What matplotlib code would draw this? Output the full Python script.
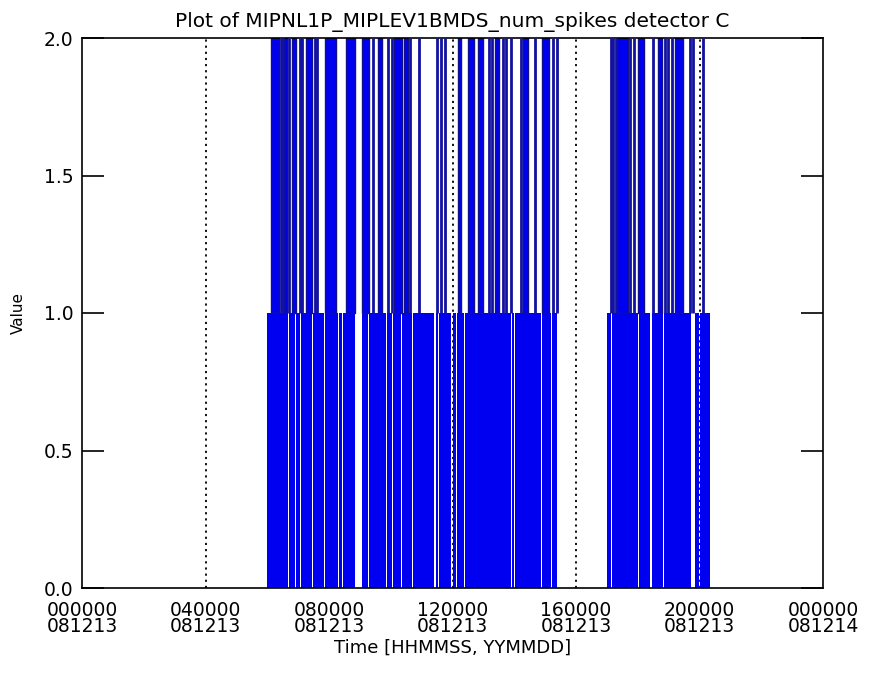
import matplotlib
matplotlib.use('Agg')
import matplotlib.pyplot as plt

FONT_SIZE = 13.5
matplotlib.rcParams.update({'font.size': FONT_SIZE, 'font.family': 'DejaVu Sans'})

# time axis in hours since 081213 000000
tick_hours = [0, 4, 8, 12, 16, 20, 24]
tick_labels = ['000000\n081213', '040000\n081213', '080000\n081213', '120000\n081213',
               '160000\n081213', '200000\n081213', '000000\n081214']
grid_hours = [4, 8, 12, 16, 20]

# stretches where num_spikes keeps toggling 0 <-> 1 (shows as solid blue up to 1.0)
low_spans = [(5.98, 6.66), (6.70, 6.90), (6.94, 7.06), (7.10, 7.44), (7.48, 7.83),
             (7.88, 8.28), (8.32, 8.41), (8.45, 8.84), (9.06, 9.25), (9.29, 9.85),
             (9.89, 10.04), (10.08, 10.33), (10.37, 10.68), (10.72, 11.41), (11.45, 11.52),
             (11.56, 11.95), (12.03, 12.11), (12.15, 12.38), (12.42, 13.89), (13.93, 14.00),
             (14.04, 14.87), (14.91, 15.19), (15.23, 15.38),
             (17.00, 17.13), (17.17, 18.00), (18.04, 18.41), (18.45, 18.81), (18.85, 19.74),
             (19.87, 19.97), (20.03, 20.34)]

# stretches toggling 1 <-> 2 (solid blue between 1.0 and 2.0)
high_spans = [(6.13, 6.38), (6.53, 6.64), (6.79, 6.93), (7.27, 7.45), (7.88, 8.23),
              (8.55, 8.83), (9.06, 9.28), (9.58, 9.71), (10.12, 10.36), (10.44, 10.56),
              (12.18, 12.28), (12.49, 12.71), (12.84, 12.98), (13.38, 13.51), (14.27, 14.46),
              (14.89, 15.13), (17.33, 17.68), (18.00, 18.19), (18.65, 18.78), (19.20, 19.45)]

# single spikes reaching 2 (or more, clipped)
thin_spikes = [6.45, 6.50, 6.72, 7.05, 7.13, 7.55, 7.62, 9.41, 9.92, 10.05, 10.62, 10.91,
               11.51, 11.64, 11.76, 13.18, 13.28, 13.62, 13.73, 13.90, 14.23, 14.66,
               15.26, 15.40, 17.12, 17.21, 17.30, 17.75, 17.89, 18.50, 18.88,
               18.99, 19.12, 19.69, 19.80, 20.12]

fig = plt.figure(figsize=(8.73, 6.75), dpi=100)
ax = fig.add_axes([82 / 873, 87 / 675, 741 / 873, 550 / 675])

for h in grid_hours:
    ax.axvline(h, color='black', linestyle=(0, (1.2, 2.2)), lw=1.3, zorder=1)

for start, end in low_spans:
    ax.fill_between([start, end], 0, 1, facecolor='#0000f0', edgecolor='none', zorder=2)
for start, end in high_spans:
    ax.fill_between([start, end], 1, 2, facecolor='#0000f0', edgecolor='#10108a', lw=1.0, zorder=2)
ax.vlines(thin_spikes, 1, 2, color='#1212a0', lw=2.0, zorder=3)

ax.set_xlim(0, 24)
ax.set_ylim(0, 2)
ax.set_xticks(tick_hours)
ax.set_xticklabels(tick_labels, linespacing=0.85)
ax.set_yticks([0, 0.5, 1.0, 1.5, 2.0])
ax.set_yticklabels(['0.0', '0.5', '1.0', '1.5', '2.0'])
ax.tick_params(axis='x', length=0, pad=9)
ax.tick_params(axis='y', direction='in', length=16, width=1.2, right=True, pad=6)
for spine in ax.spines.values():
    spine.set_linewidth(1.2)

ax.set_title('Plot of MIPNL1P_MIPLEV1BMDS_num_spikes detector C', fontsize=14.5, pad=8)
ax.set_xlabel('Time [HHMMSS, YYMMDD]', fontsize=13, labelpad=2)
ax.set_ylabel('Value', fontsize=11, labelpad=13)

plt.savefig('out.png', dpi=100)
